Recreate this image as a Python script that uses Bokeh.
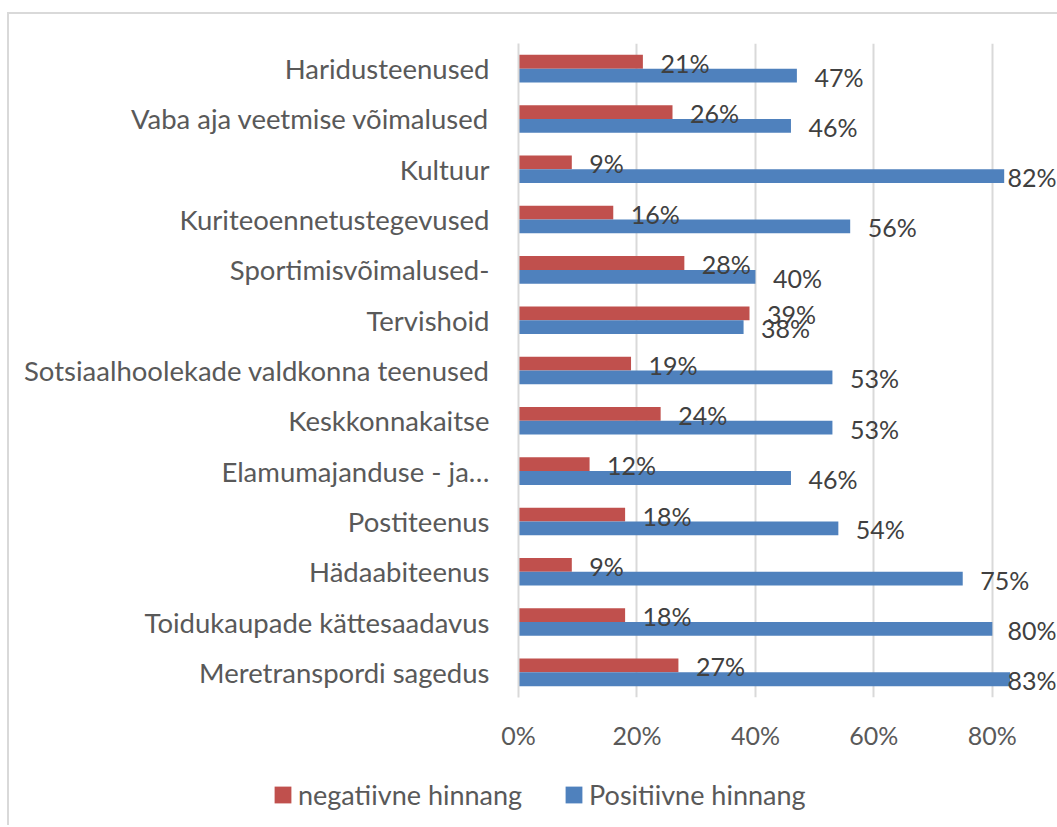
import numpy as np
from bokeh.plotting import figure
from bokeh.models import (ColumnDataSource, FactorRange, Range1d, FixedTicker,
                          PrintfTickFormatter, Legend, LegendItem)
from bokeh.transform import dodge
from bokeh.core.properties import value
from bokeh.embed import file_html
from bokeh.resources import INLINE

categories = [
    "Haridusteenused",
    "Vaba aja veetmise võimalused",
    "Kultuur",
    "Kuriteoennetustegevused",
    "Sportimisvõimalused-",
    "Tervishoid",
    "Sotsiaalhoolekade valdkonna teenused",
    "Keskkonnakaitse",
    "Elamumajanduse - ja…",
    "Postiteenus",
    "Hädaabiteenus",
    "Toidukaupade kättesaadavus",
    "Meretranspordi sagedus",
]
negatiivne = [21, 26, 9, 16, 28, 39, 19, 24, 12, 18, 9, 18, 27]
positiivne = [47, 46, 82, 56, 40, 38, 53, 53, 46, 54, 75, 80, 83]
x_ticks = [0, 20, 40, 60, 80]
series_names = ["negatiivne hinnang", "Positiivne hinnang"]

RED = "#c0504d"
BLUE = "#4f81bd"
GRID = "#d9d9d9"
TXT = "#595959"
LBL = "#404040"
FONT = "Lato"

label_cap = 79.6  # labels kept inside the chart area (as Excel does)
src = ColumnDataSource(dict(
    cat=categories,
    neg=negatiivne,
    pos=positiivne,
    neg_label=[f"{v}%" for v in negatiivne],
    pos_label=[f"{v}%" for v in positiivne],
    neg_lx=[min(v, label_cap) for v in negatiivne],
    pos_lx=[min(v, label_cap) for v in positiivne],
))

p = figure(
    y_range=FactorRange(factors=categories[::-1]),
    x_range=Range1d(0, 91),
    frame_width=539, frame_height=654,
    min_border_left=509, min_border_right=0,
    min_border_top=29, min_border_bottom=60,
    output_backend="svg", toolbar_location=None,
)
p.styles = {"border-top": f"2px solid {GRID}", "border-left": f"2px solid {GRID}",
            "margin-top": "12px", "margin-left": "7px"}
p.outline_line_color = None
p.background_fill_color = "white"
p.border_fill_color = "white"

bh = 0.274
p.hbar(y=dodge("cat", bh / 2, range=p.y_range), left=0, right="neg",
       height=bh, fill_color=RED, line_color=None, source=src)
p.hbar(y=dodge("cat", -bh / 2, range=p.y_range), left=0, right="pos",
       height=bh, fill_color=BLUE, line_color=None, source=src)

for col, lab, off in (("neg_lx", "neg_label", bh / 2), ("pos_lx", "pos_label", -bh / 2)):
    p.text(x=col, y=dodge("cat", off, range=p.y_range), text=lab, source=src,
           x_offset=17.5, y_offset=1, text_baseline="middle", text_align="left",
           text_font=value(FONT), text_font_size="25px", text_color=LBL)

# x axis
p.xaxis.ticker = FixedTicker(ticks=x_ticks)
p.xaxis.formatter = PrintfTickFormatter(format="%d%%")
p.xaxis.axis_line_color = None
p.xaxis.major_tick_line_color = None
p.xaxis.minor_tick_line_color = None
p.xaxis.major_label_standoff = 16
p.xaxis.major_label_text_font = FONT
p.xaxis.major_label_text_font_size = "25px"
p.xaxis.major_label_text_color = TXT

p.xgrid.ticker = FixedTicker(ticks=x_ticks)
p.xgrid.grid_line_color = GRID
p.xgrid.grid_line_width = 2
p.ygrid.grid_line_color = None

# y axis
p.yaxis.axis_line_color = GRID
p.yaxis.axis_line_width = 2
p.yaxis.major_tick_line_color = None
p.yaxis.minor_tick_line_color = None
p.yaxis.major_label_standoff = 23
p.yaxis.major_label_text_font = FONT
p.yaxis.major_label_text_font_size = "27.5px"
p.yaxis.major_label_text_color = TXT

# legend strip below the chart (separate root so its frame is not aligned)
lf = figure(
    width=1048, height=68, x_range=Range1d(0, 1), y_range=Range1d(0, 1),
    x_axis_type=None, y_axis_type=None,
    min_border=0, output_backend="svg", toolbar_location=None,
)
lf.styles = {"border-left": f"2px solid {GRID}", "margin-left": "7px"}
lf.outline_line_color = None
lf.xgrid.grid_line_color = None
lf.ygrid.grid_line_color = None
# legend proxies, placed outside the visible range
l_neg = lf.hbar(y=[-5], right=[1], left=0, height=0.1, fill_color=RED, line_color=None)
l_pos = lf.hbar(y=[-5], right=[1], left=0, height=0.1, fill_color=BLUE, line_color=None)

legend = Legend(
    items=[LegendItem(label=series_names[0], renderers=[l_neg]),
           LegendItem(label=series_names[1], renderers=[l_pos])],
    orientation="horizontal", location=(263, 14),
    glyph_width=21, glyph_height=21, label_standoff=5, spacing=41,
    padding=0, margin=0, border_line_color=None, background_fill_alpha=0,
    label_text_font=FONT, label_text_font_size="27px", label_text_color=TXT,
)
lf.add_layout(legend)

open("out.html", "w").write(file_html([p, lf], INLINE))
